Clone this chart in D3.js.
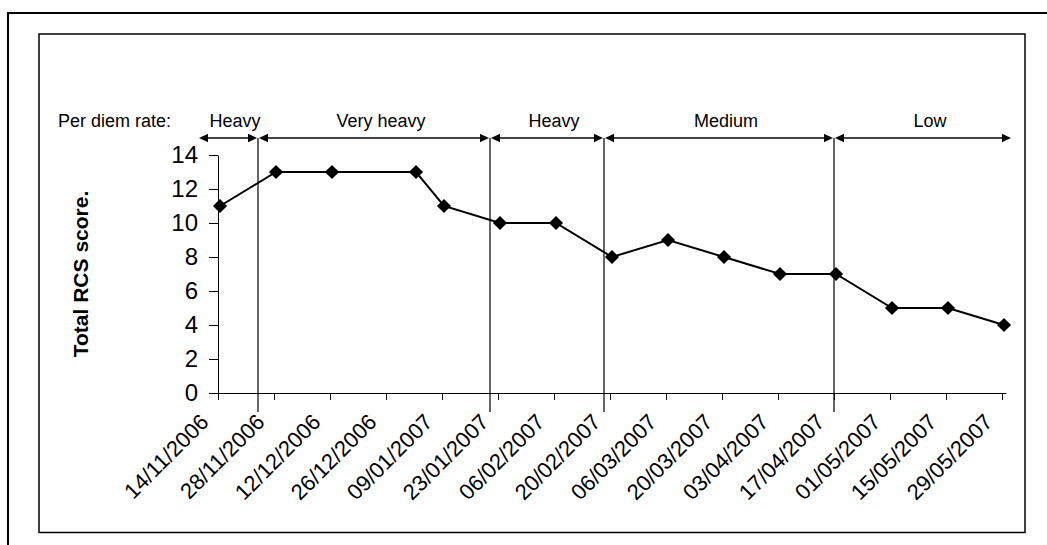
<!DOCTYPE html>
<html>
<head>
<meta charset="utf-8">
<script src="https://cdn.jsdelivr.net/npm/d3@7"></script>
<style>
  html, body { margin: 0; padding: 0; background: #fff; }
  svg { display: block; font-family: "Liberation Sans", Arial, sans-serif; }
</style>
</head>
<body>
<svg id="chart" width="1047" height="545"></svg>
<script>
// ---- data ----
const visitDates = ["14/11/2006", "28/11/2006", "12/12/2006", "02/01/2007", "09/01/2007",
  "23/01/2007", "06/02/2007", "20/02/2007", "06/03/2007", "20/03/2007",
  "03/04/2007", "17/04/2007", "01/05/2007", "15/05/2007", "29/05/2007"];
const rcsScores = [11, 13, 13, 13, 11, 10, 10, 8, 9, 8, 7, 7, 5, 5, 4];

const xTickLabels = ["14/11/2006", "28/11/2006", "12/12/2006", "26/12/2006", "09/01/2007",
  "23/01/2007", "06/02/2007", "20/02/2007", "06/03/2007", "20/03/2007",
  "03/04/2007", "17/04/2007", "01/05/2007", "15/05/2007", "29/05/2007"];
const yTickValues = [0, 2, 4, 6, 8, 10, 12, 14];

const periodLabels = ["Heavy", "Very heavy", "Heavy", "Medium", "Low"];
const periodBounds = ["2006-11-09T00:00", "2006-11-24T00:00", "2007-01-21T00:00",
  "2007-02-18T12:00", "2007-04-17T00:00", "2007-05-31T12:00"];

const axisStart = "14/11/2006";
const axisEnd = "30/05/2007";
const yTitle = "Total RCS score.";
const headerTitle = "Per diem rate:";

// ---- setup ----
const svg = d3.select("#chart");
const parseDMY = d3.utcParse("%d/%m/%Y");
const parseISO = d3.utcParse("%Y-%m-%dT%H:%M");

const x = d3.scaleUtc().domain([parseDMY(axisStart), parseDMY(axisEnd)]).range([218, 1006]);
const y = d3.scaleLinear().domain([0, 14]).range([393, 155]);
const halfDay = (x(d3.utcDay.offset(parseDMY(axisStart), 1)) - x(parseDMY(axisStart))) / 2;

// frames
svg.append("rect").attr("x", 8).attr("y", 13).attr("width", 1100).attr("height", 600)
  .attr("fill", "none").attr("stroke", "#000").attr("stroke-width", 2);
svg.append("rect").attr("x", 39).attr("y", 34).attr("width", 986).attr("height", 498.5)
  .attr("fill", "none").attr("stroke", "#000").attr("stroke-width", 1.5);

// y axis
const yAxis = svg.append("g").attr("transform", "translate(218,0)")
  .call(d3.axisLeft(y).tickValues(yTickValues).tickSize(9).tickSizeOuter(0).tickPadding(11));
yAxis.selectAll("text").attr("font-size", 24).attr("fill", "#000")
  .attr("font-family", "Liberation Sans, Arial, sans-serif");
yAxis.selectAll("line, path").attr("stroke", "#000");

// x axis
const tickDates = xTickLabels.map(parseDMY);
const xAxis = svg.append("g").attr("transform", "translate(0,393)")
  .call(d3.axisBottom(x).tickValues(tickDates).tickSize(7).tickSizeOuter(0)
    .tickFormat((d, i) => xTickLabels[i]));
xAxis.selectAll("line, path").attr("stroke", "#000");
xAxis.selectAll("text")
  .attr("x", 0).attr("y", 0).attr("dy", "0.35em")
  .attr("transform", "translate(-14,25) rotate(-45)")
  .style("text-anchor", "end")
  .attr("font-size", 22).attr("fill", "#000")
  .attr("font-family", "Liberation Sans, Arial, sans-serif");

// y title
svg.append("text")
  .attr("transform", `translate(88,${(y(0) + y(14)) / 2}) rotate(-90)`)
  .attr("text-anchor", "middle").attr("font-size", 21).attr("font-weight", "bold")
  .text(yTitle);

// period dividers and arrows
const bounds = periodBounds.map(parseISO);
const arrowY = 138;
svg.selectAll("line.divider").data(bounds.slice(1, -1)).enter().append("line")
  .attr("class", "divider")
  .attr("x1", d => x(d)).attr("x2", d => x(d))
  .attr("y1", arrowY).attr("y2", 412)
  .attr("stroke", "#000").attr("stroke-width", 1.2);

const head = 9, hh = 4.2;
periodLabels.forEach((lab, i) => {
  const x0 = x(bounds[i]) + 1, x1 = x(bounds[i + 1]) - 1;
  svg.append("line").attr("x1", x0 + head - 1).attr("x2", x1 - head + 1)
    .attr("y1", arrowY).attr("y2", arrowY).attr("stroke", "#000").attr("stroke-width", 1.6);
  svg.append("path").attr("d", `M${x0},${arrowY}L${x0 + head},${arrowY - hh}L${x0 + head},${arrowY + hh}Z`).attr("fill", "#000");
  svg.append("path").attr("d", `M${x1},${arrowY}L${x1 - head},${arrowY - hh}L${x1 - head},${arrowY + hh}Z`).attr("fill", "#000");
  svg.append("text").attr("x", (x0 + x1) / 2 + 7).attr("y", 127)
    .attr("text-anchor", "middle").attr("font-size", 18).text(lab);
});
svg.append("text").attr("x", 58).attr("y", 127).attr("font-size", 18).text(headerTitle);

// data line + markers
const pts = visitDates.map((d, i) => ({ date: parseDMY(d), v: rcsScores[i] }));
const line = d3.line().x(d => x(d.date) + halfDay).y(d => y(d.v));
svg.append("path").datum(pts).attr("d", line)
  .attr("fill", "none").attr("stroke", "#000").attr("stroke-width", 2);
const sym = d3.symbol(d3.symbolSquare, 100);
svg.selectAll("path.mk").data(pts).enter().append("path").attr("class", "mk")
  .attr("d", sym)
  .attr("transform", d => `translate(${x(d.date) + halfDay},${y(d.v)}) rotate(45)`)
  .attr("fill", "#000");
</script>
</body>
</html>
